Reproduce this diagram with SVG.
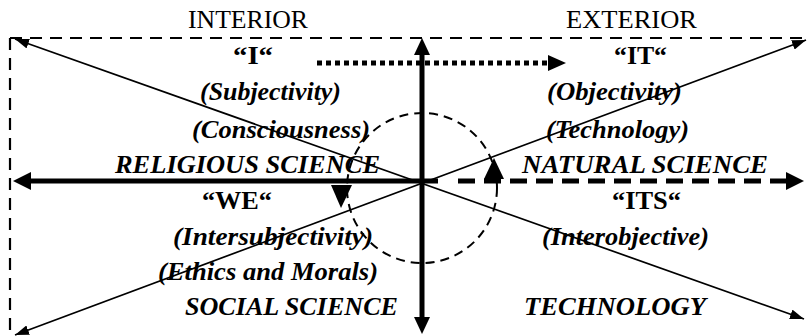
<svg xmlns="http://www.w3.org/2000/svg" width="808" height="336" viewBox="0 0 808 336">
<defs>
<style>
.hd{font-family:"Liberation Serif","Times New Roman",serif;font-size:25px;fill:#000}
.q{font-family:"Liberation Serif","Times New Roman",serif;font-size:26px;font-weight:bold;fill:#000}
.bi{font-family:"Liberation Serif","Times New Roman",serif;font-size:25px;font-weight:bold;font-style:italic;fill:#000}
.thin{stroke:#000;stroke-width:1.7;fill:none}
.frame{stroke:#000;stroke-width:2.2;fill:none;stroke-dasharray:12 8}
.thick{stroke:#000;stroke-width:5;fill:none}
.head{fill:#000;stroke:none}
</style>
<marker id="ah" viewBox="0 0 14 10" refX="14" refY="5" markerWidth="14" markerHeight="10" markerUnits="userSpaceOnUse" orient="auto-start-reverse">
<path d="M0,0 L14,5 L0,10 Z" fill="#000"/>
</marker>
</defs>
<g id="connectors">
<line class="frame" x1="10" y1="38" x2="802" y2="38"/>
<line class="frame" x1="10" y1="38" x2="10" y2="336"/>
<circle cx="422" cy="188" r="75" fill="none" stroke="#000" stroke-width="2" stroke-dasharray="9 6"/>
<line class="thin" x1="15" y1="39" x2="804" y2="319" marker-start="url(#ah)" marker-end="url(#ah)"/>
<line class="thin" x1="15" y1="335" x2="806" y2="40" marker-start="url(#ah)" marker-end="url(#ah)"/>
<line class="thick" x1="422" y1="52" x2="422" y2="319"/>
<polygon class="head" points="422,38 414,55 430,55"/>
<polygon class="head" points="422,334 414,317 430,317"/>
<line class="thick" x1="29" y1="181" x2="438" y2="181"/>
<polygon class="head" points="13,181 31,172 31,190"/>
<line class="thick" x1="458" y1="181" x2="788" y2="181" stroke-dasharray="17 9"/>
<polygon class="head" points="804,181 786,172 786,190"/>
<line class="thick" x1="317" y1="63" x2="550" y2="63" stroke-dasharray="5 4"/>
<polygon class="head" points="566,63 548,55 548,71"/>
<polygon class="head" points="494,158 484,179 504,179"/>
<polygon class="head" points="331,185 352,185 341,208"/>
</g>
<g id="interior-heading"><text class="hd" x="188" y="28" textLength="120" lengthAdjust="spacingAndGlyphs">INTERIOR</text></g>
<g id="exterior-heading"><text class="hd" x="566" y="28" textLength="131" lengthAdjust="spacingAndGlyphs">EXTERIOR</text></g>
<g id="quadrant-I">
<text class="q" x="233" y="64" textLength="40" lengthAdjust="spacingAndGlyphs">“I“</text>
<text class="bi" x="200" y="100" textLength="141" lengthAdjust="spacingAndGlyphs">(Subjectivity)</text>
<text class="bi" x="192" y="138" textLength="178" lengthAdjust="spacingAndGlyphs">(Consciousness)</text>
<text class="bi" x="115" y="173" textLength="265" lengthAdjust="spacingAndGlyphs">RELIGIOUS SCIENCE</text>
</g>
<g id="quadrant-IT">
<text class="q" x="614" y="64" textLength="53" lengthAdjust="spacingAndGlyphs">“IT“</text>
<text class="bi" x="547" y="100" textLength="135" lengthAdjust="spacingAndGlyphs">(Objectivity)</text>
<text class="bi" x="546" y="138" textLength="143" lengthAdjust="spacingAndGlyphs">(Technology)</text>
<text class="bi" x="522" y="173" textLength="246" lengthAdjust="spacingAndGlyphs">NATURAL SCIENCE</text>
</g>
<g id="quadrant-WE">
<text class="q" x="202" y="209" textLength="70" lengthAdjust="spacingAndGlyphs">“WE“</text>
<text class="bi" x="173" y="245" textLength="200" lengthAdjust="spacingAndGlyphs">(Intersubjectivity)</text>
<text class="bi" x="158" y="280" textLength="220" lengthAdjust="spacingAndGlyphs">(Ethics and Morals)</text>
<text class="bi" x="185" y="315" textLength="213" lengthAdjust="spacingAndGlyphs">SOCIAL SCIENCE</text>
</g>
<g id="quadrant-ITS">
<text class="q" x="612" y="209" textLength="69" lengthAdjust="spacingAndGlyphs">“ITS“</text>
<text class="bi" x="542" y="245" textLength="167" lengthAdjust="spacingAndGlyphs">(Interobjective)</text>
<text class="bi" x="524" y="315" textLength="182" lengthAdjust="spacingAndGlyphs">TECHNOLOGY</text>
</g>
</svg>
